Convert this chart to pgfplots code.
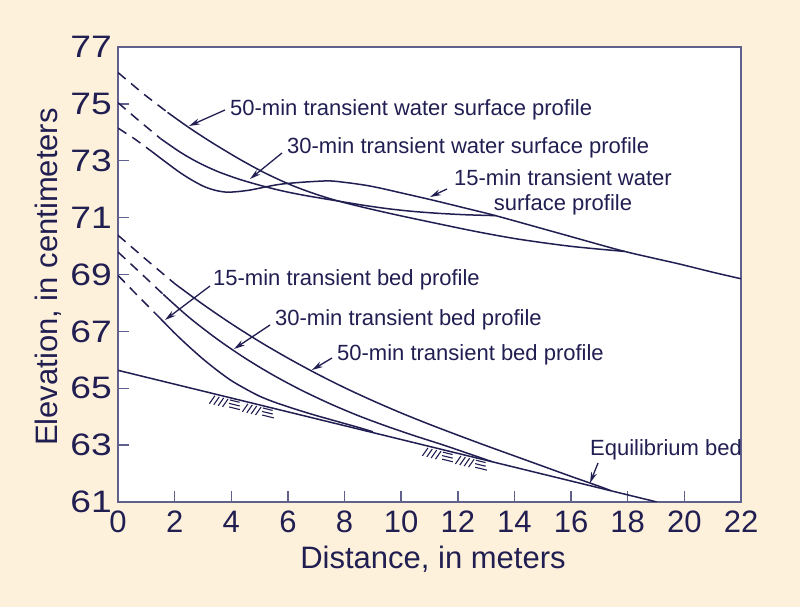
\documentclass[border=0pt]{standalone}
\usepackage{fontspec}
\setmainfont{Liberation Sans}
\newfontfamily\wideft[FakeStretch=1.2]{Liberation Sans}
\usepackage{pgfplots}
\pgfplotsset{compat=1.18}
\usetikzlibrary{arrows.meta}
\definecolor{bgc}{RGB}{253,241,219}
\definecolor{ink}{RGB}{33,30,82}
\definecolor{axc}{RGB}{96,96,140}
\newcommand\hatchgroup[2]{%
 \begin{scope}[shift={(#1bp,#2bp)}, rotate=-13.75, x=1bp, y=1bp, line width=1.1bp]
  \foreach \i in {0,1,2,3} {\draw[ink] (\i*4.5, -11) -- (\i*4.5+3.5, -2);}
  \draw[ink] (19,-2.5) -- (29,-2.5) (19,-6) -- (30,-6) (20,-9.5) -- (31,-9.5);
  \foreach \i in {0,1,2,3} {\draw[ink] (34+\i*4.5, -11) -- (34+\i*4.5+3.5, -2);}
  \draw[ink] (53,-2.5) -- (63,-2.5) (53,-6) -- (64,-6) (54,-9.5) -- (66,-9.5);
 \end{scope}}
\begin{document}
\begin{tikzpicture}
\fill[bgc] (0bp,0bp) rectangle (800bp,607bp);
\begin{axis}[
  at={(118bp,105bp)}, anchor=south west,
  scale only axis, width=623bp, height=455bp,
  xmin=0, xmax=22, ymin=61, ymax=77,
  xtick={0,2,...,22}, ytick={61,63,...,77},
  xtick pos=left, ytick pos=left,
  tick align=inside, major tick length=11bp,
  axis line style={draw=axc, line width=1.8bp},
  tick style={draw=axc, line width=1.4bp},
  axis background/.style={fill=white},
  /pgf/number format/assume math mode=true,
  xticklabel style={font=\fontsize{31bp}{31bp}\selectfont, text=ink, anchor=base, inner sep=0pt, yshift=-30.6bp},
  yticklabel style={font=\wideft\fontsize{31bp}{31bp}\selectfont, text=ink, anchor=east, inner sep=0pt, xshift=-6bp},
  cycle list={{ink, no markers, solid}},
  sol/.style={ink, no markers, solid, line width=1.5bp, smooth, tension=0.5},
  dsh/.style={ink, no markers, line width=1.5bp, dash pattern=on 10bp off 7bp},
]
% 15-min transient water surface
\addplot[dsh] coordinates {(0,74.15) (0.6,73.76) (1.2,73.32)};
\addplot[sol] coordinates {(1.2,73.32) (2.24,72.55) (3.07,72.08) (3.78,71.90) (4.60,71.96) (5.78,72.18) (7.32,72.29) (8.0,72.24) (8.73,72.14) (9.25,72.04) (9.91,71.89) (11.09,71.62) (12.2,71.35) (13.33,71.07) (15.5,70.47) (17.7,69.86) (18.8,69.60) (19.82,69.37) (21.0,69.08) (22,68.85)};
% 30-min transient water surface
\addplot[dsh] coordinates {(0,75.04) (0.75,74.40) (1.5,73.78)};
\addplot[sol] coordinates {(1.5,73.78) (2.2,73.30) (2.83,72.94) (3.5,72.63) (4.25,72.36) (5.0,72.14) (5.8,71.94) (6.6,71.78) (7.79,71.58) (8.7,71.43) (9.56,71.31) (10.4,71.22) (11.33,71.15) (12.3,71.10) (13.33,71.07)};
% 50-min transient water surface
\addplot[dsh] coordinates {(0,76.10) (0.9,75.35) (1.75,74.70)};
\addplot[sol] coordinates {(1.75,74.70) (2.5,74.17) (3.3,73.65) (4.25,73.08) (5.19,72.57) (6.13,72.14) (7.0,71.82) (7.79,71.58) (8.8,71.33) (9.91,71.08) (11.33,70.78) (12.7,70.50) (14.16,70.24) (16.0,69.99) (17.9,69.81)};
% 15-min transient bed
\addplot[dsh] coordinates {(0,68.97) (0.7,68.25) (1.4,67.55)};
\addplot[sol] coordinates {(1.4,67.55) (2.0,66.94) (2.5,66.47) (3.0,66.03) (3.5,65.63) (4.0,65.27) (4.5,64.98) (5.0,64.72) (5.5,64.52) (6.0,64.35) (6.5,64.19) (7.0,64.04) (7.5,63.90) (8.0,63.76) (8.5,63.62) (9.0,63.47)};
% 30-min transient bed
\addplot[dsh] coordinates {(0,69.79) (0.8,69.05) (1.6,68.30)};
\addplot[sol] coordinates {(1.6,68.30) (2.5,67.50) (3.5,66.73) (4.5,66.05) (5.5,65.45) (6.5,64.92) (7.5,64.45) (8.5,64.03) (9.5,63.66) (10.5,63.32) (11.5,63.00) (12.5,62.66) (13.2,62.42)};
% 50-min transient bed
\addplot[dsh] coordinates {(0,70.38) (1.0,69.52) (2.0,68.68)};
\addplot[sol] coordinates {(2.0,68.68) (3.0,67.95) (4.0,67.27) (5.0,66.64) (6.0,66.06) (7.0,65.52) (8.0,65.02) (9.0,64.56) (10.0,64.13) (11.0,63.73) (12.0,63.35) (13.0,62.98) (14.0,62.62) (15.0,62.26) (16.0,61.90) (17.0,61.55) (17.4,61.40)};
% Equilibrium bed
\addplot[ink, no markers, solid, line width=1.5bp, sharp plot] coordinates {(0,65.63) (19.03,61.0)};
\end{axis}
\hatchgroup{212}{214}
\hatchgroup{425}{161.8}
\begin{scope}[x=1bp,y=1bp, every node/.style={text=ink, font=\fontsize{22bp}{25bp}\selectfont, inner sep=0pt}, arr/.style={-{Stealth[length=11bp,width=6bp]}, line width=1.3bp, draw=ink}]
\node[anchor=west] at (230,497) {50-min transient water surface profile};
\draw[arr] (225,497) -- (189,481);
\node[anchor=west] at (287,459) {30-min transient water surface profile};
\draw[arr] (282,454) -- (250,428);
\node[align=center] at (563,414.5) {15-min transient water\\surface profile};
\draw[arr] (447,418) -- (430,410);
\node[anchor=west] at (213,327) {15-min transient bed profile};
\draw[arr] (210,321) -- (165,287);
\node[anchor=west] at (275,287) {30-min transient bed profile};
\draw[arr] (270,282) -- (234,258);
\node[anchor=west] at (337,252) {50-min transient bed profile};
\draw[arr] (332,249) -- (312,237);
\node[anchor=west] at (590,157) {Equilibrium bed};
\draw[arr] (598,144) -- (590,124);
\node[rotate=90, anchor=base, font=\fontsize{31bp}{31bp}\selectfont] at (57,330) {Elevation, in centimeters};
\node[anchor=base, font=\fontsize{31bp}{31bp}\selectfont] at (433,38.7) {Distance, in meters};
\end{scope}
\end{tikzpicture}
\end{document}
